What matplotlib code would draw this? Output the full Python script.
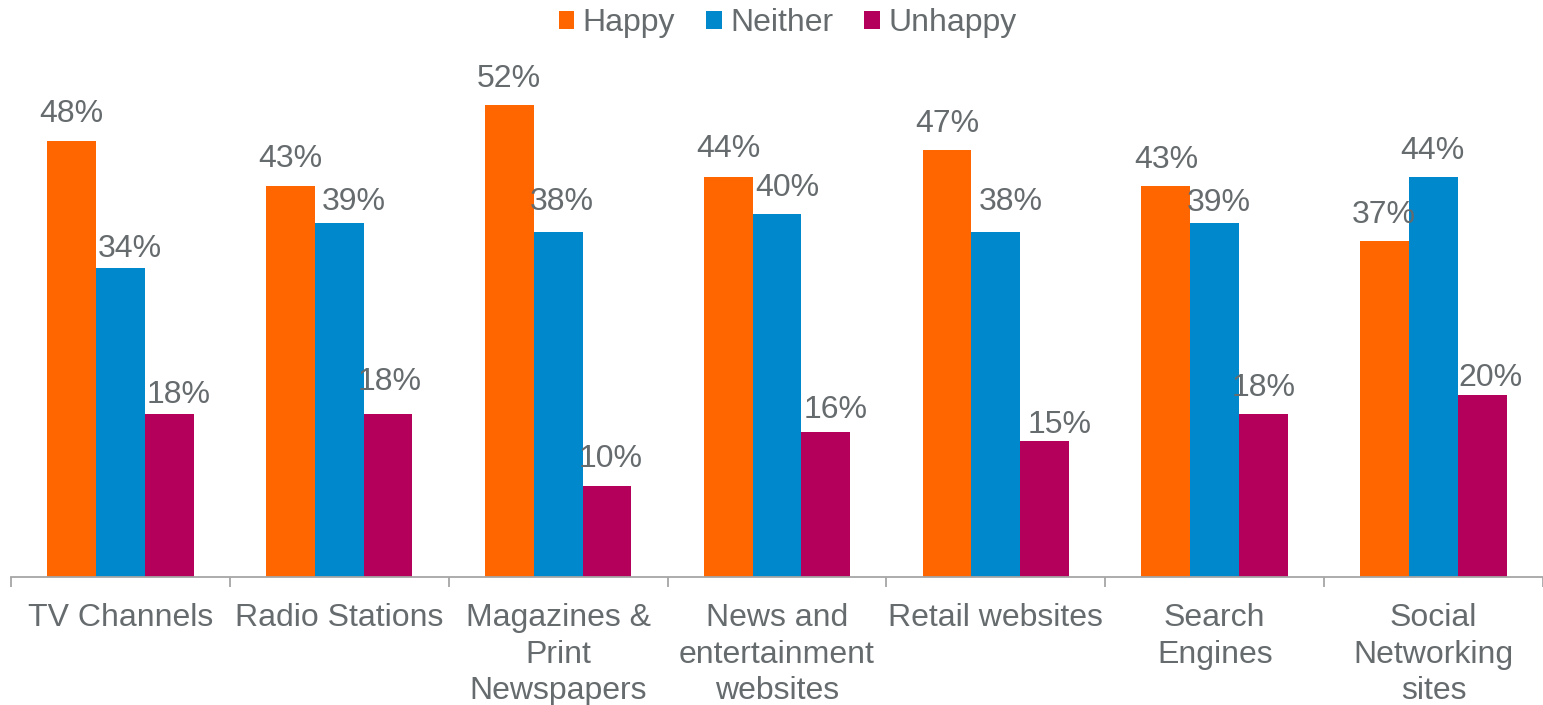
import numpy as np
import matplotlib
matplotlib.use('Agg')
import matplotlib.pyplot as plt

categories = ["TV Channels", "Radio Stations", "Magazines &\nPrint\nNewspapers",
              "News and\nentertainment\nwebsites", "Retail websites",
              "Search\nEngines", "Social\nNetworking\nsites"]
happy = [48, 43, 52, 44, 47, 43, 37]
neither = [34, 39, 38, 40, 38, 39, 44]
unhappy = [18, 18, 10, 16, 15, 18, 20]

series = [("Happy", happy, "#FF6600"),
          ("Neither", neither, "#0088CC"),
          ("Unhappy", unhappy, "#B4005A")]

# label nudges in pixels (dx, gap above bar top), per series, per category
label_nudge = [
    [(0, 19), (0, 19), (0, 18), (0, 20), (0, 18), (0, 18), (-1, 18)],
    [(9, 11), (15, 13), (4, 22), (10, 18), (15, 22), (4, 12), (-1, 18)],
    [(9, 11), (2, 24), (4, 19), (10, 14), (15, 8), (0, 18), (8, 9)],
]

text_color = "#666B6E"
axis_color = "#A6A6A6"
fs = 23
plt.rcParams['font.family'] = ['Liberation Sans', 'DejaVu Sans']

fig = plt.figure(figsize=(15.43, 7.05), dpi=100)
ax = fig.add_axes([0.0071, 0.1816, 0.9929, 0.7085])

x = np.arange(len(categories))
w = 0.223
for i, (name, vals, col) in enumerate(series):
    pos = x + (i - 1) * w
    bars = ax.bar(pos, vals, width=w, color=col, label=name)
    for b, v, (dx, dy) in zip(bars, vals, label_nudge[i]):
        ax.annotate(f"{v}%", (b.get_x() + b.get_width() / 2, v),
                    xytext=(dx, dy), textcoords='offset pixels',
                    ha='center', va='baseline', fontsize=fs, color=text_color)

ax.set_xlim(-0.5, len(categories) - 0.5)
ax.set_ylim(0, 55)
ax.set_yticks([])
for s in ['top', 'right', 'left']:
    ax.spines[s].set_visible(False)
ax.spines['bottom'].set_color(axis_color)
ax.spines['bottom'].set_linewidth(1.3)

ax.set_xticks(x)
ax.set_xticklabels(categories, fontsize=fs, color=text_color, linespacing=1.27)
ax.tick_params(axis='x', which='major', length=0, pad=19)
ax.set_xticks(np.arange(-0.5, len(categories)), minor=True)
ax.tick_params(axis='x', which='minor', length=7, color=axis_color, width=1.3)

leg = ax.legend(loc='upper center', bbox_to_anchor=(0.5104, 1.0),
                bbox_transform=fig.transFigure, ncol=3, frameon=False,
                fontsize=fs, handlelength=0.49, handleheight=0.49,
                handletextpad=0.26, columnspacing=0.97,
                borderaxespad=0, borderpad=0.25)
for t in leg.get_texts():
    t.set_color(text_color)

fig.savefig("out.png", dpi=100)
